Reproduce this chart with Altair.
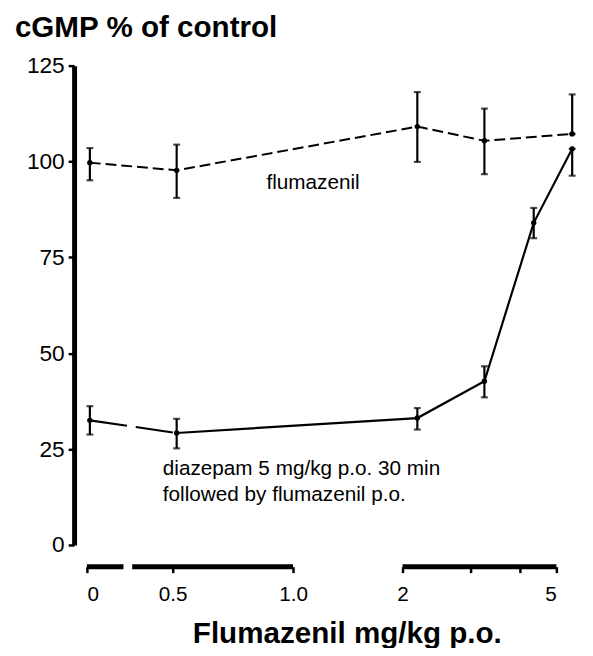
import altair as alt
import pandas as pd

# ---- data ----
flu_dose = [0, 0.5, 2, 3, 5]
flu_mean = [99.7, 97.7, 109.1, 105.4, 107.2]
flu_lo = [95.1, 90.5, 99.9, 96.7, 107.2]
flu_hi = [103.5, 104.4, 118.1, 113.8, 117.5]

dzp_dose = [0, 0.5, 2, 3, 4, 5]
dzp_mean = [32.5, 29.2, 33.1, 42.7, 84.0, 103.3]
dzp_lo = [28.8, 25.2, 30.1, 38.5, 80.0, 96.3]
dzp_hi = [36.2, 32.9, 35.7, 46.6, 87.9, 103.3]

y_ticks = [0, 25, 50, 75, 100, 125]
x_ticks = [0, 0.5, 1, 2, 3, 4, 5]
axis_seg_start = [0, 0.264, 2]
axis_seg_end = [0.213, 1.0, 5]

title_text = "cGMP % of control"
x_title_text = "Flumazenil mg/kg p.o."
flu_label = "flumazenil"
dzp_label = ["diazepam 5 mg/kg p.o. 30 min", "followed by flumazenil p.o."]

# ---- scales (broken axis: piecewise) ----
W, H = 512, 486
data_x_scale = alt.Scale(domain=[0, 0.5, 2, 3, 4, 5], range=[16, 104, 348, 416, 466, 505])
axis_x_scale = alt.Scale(domain=[0, 0.5, 1, 2, 3, 4, 5], range=[13, 100, 222, 333, 402, 452, 489])
y_scale = alt.Scale(domain=[0, 125])

FONT = "Liberation Sans"

flu = pd.DataFrame(dict(dose=flu_dose, mean=flu_mean, lo=flu_lo, hi=flu_hi))
dzp = pd.DataFrame(dict(dose=dzp_dose, mean=dzp_mean, lo=dzp_lo, hi=dzp_hi))
seg = pd.DataFrame(dict(start=axis_seg_start, end=axis_seg_end))

y_axis = alt.Axis(values=y_ticks, title=None, grid=False, domainWidth=5, domainColor="black",
                  tickSize=6, tickWidth=2.5, tickColor="black", labelFontSize=23,
                  labelPadding=4, labelFont=FONT, labelColor="black")

X = alt.X("dose:Q", scale=data_x_scale, axis=None)
Ym = alt.Y("mean:Q", scale=y_scale, axis=y_axis)
Ylo = alt.Y("lo:Q", scale=y_scale, axis=y_axis)
Yhi = alt.Y("hi:Q", scale=y_scale, axis=y_axis)


def series(df):
    base = alt.Chart(df)
    bars = base.mark_rule(color="black", strokeWidth=2.2).encode(x=X, y=Ylo, y2="hi:Q")
    cap_lo = base.mark_tick(orient="horizontal", color="black", size=7, thickness=2.2).encode(x=X, y=Ylo)
    cap_hi = base.mark_tick(orient="horizontal", color="black", size=7, thickness=2.2).encode(x=X, y=Yhi)
    pts = base.mark_point(filled=True, color="black", size=30, opacity=1).encode(x=X, y=Ym)
    return [bars, cap_lo, cap_hi, pts]


flu_line = alt.Chart(flu).mark_line(color="black", strokeWidth=2, strokeDash=[11, 5]).encode(x=X, y=Ym)
dzp_line_a = alt.Chart(dzp).transform_filter(alt.datum.dose <= 0.5).mark_line(
    color="black", strokeWidth=2.2, strokeDash=[38, 9]).encode(x=X, y=Ym)
dzp_line_b = alt.Chart(dzp).transform_filter(alt.datum.dose >= 0.5).mark_line(
    color="black", strokeWidth=2.2).encode(x=X, y=Ym)

data_layer = alt.layer(flu_line, dzp_line_a, dzp_line_b, *series(flu), *series(dzp))

# ---- broken x axis ----
x_axis = alt.Axis(values=x_ticks, title=None, grid=False, domain=False, offset=22,
                  tickSize=6, tickWidth=2.5, tickColor="black", labelFontSize=21,
                  labelPadding=11, labelFont=FONT, labelColor="black",
                  labelExpr="datum.value == 0.5 ? '0.5' : datum.value == 1 ? '1.0' : "
                            "(datum.value == 3 || datum.value == 4) ? '' : format(datum.value, 'd')")
axis_segs = alt.Chart(seg).mark_rule(color="black", strokeWidth=5, strokeCap="butt").encode(
    x=alt.X("start:Q", scale=axis_x_scale, axis=x_axis), x2="end:Q", y=alt.value(H + 22))

texts = pd.DataFrame(dict(
    t=[title_text, x_title_text, flu_label, dzp_label[0], dzp_label[1]],
    px=[-60, 277, 195, 90, 90],
    py=[-29, 585, 125, 415, 441],
    size=[30, 30, 21, 21, 21],
    weight=["bold", "bold", "normal", "normal", "normal"],
    align=["left", "center", "left", "left", "left"],
))


def text_row(i):
    r = texts.iloc[i]
    return alt.Chart(texts.iloc[[i]]).mark_text(
        font=FONT, fontSize=int(r["size"]), fontWeight=r["weight"], align=r["align"],
        baseline="alphabetic", color="black").encode(
        text="t:N", x=alt.value(float(r["px"])), y=alt.value(float(r["py"])))


axis_layer = alt.layer(axis_segs, *[text_row(i) for i in range(len(texts))])

chart = alt.layer(axis_layer, data_layer).resolve_scale(x="independent").properties(
    width=W, height=H,
    padding={"left": 67, "top": 54, "right": 6, "bottom": 100},
    autosize=alt.AutoSizeParams(type="none"),
    background="white",
).configure_view(stroke=None)

chart.save("out.html", embed_options={"renderer": "svg", "actions": False})
